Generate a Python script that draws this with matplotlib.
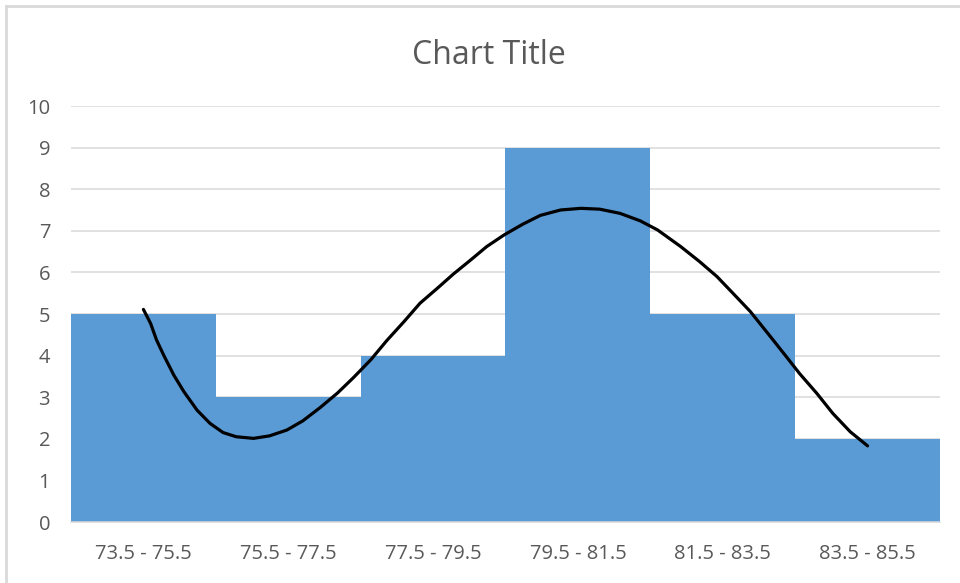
import matplotlib
matplotlib.use("Agg")
import matplotlib.pyplot as plt
from matplotlib.lines import Line2D

plt.rcParams['font.family'] = ['Open Sans', 'DejaVu Sans']

# histogram bins and frequencies
bins = ['73.5 - 75.5', '75.5 - 77.5', '77.5 - 79.5',
        '79.5 - 81.5', '81.5 - 83.5', '83.5 - 85.5']
counts = [5, 3, 4, 9, 5, 2]

# freehand trend curve drawn over the bars (x in bin-index units)
curve_x = [0.00, 0.05, 0.09, 0.14, 0.21, 0.28, 0.37, 0.46, 0.55, 0.64,
           0.76, 0.87, 0.99, 1.10, 1.22, 1.34, 1.45, 1.57, 1.68, 1.80,
           1.91, 2.03, 2.14, 2.26, 2.37, 2.49, 2.62, 2.74, 2.88, 3.02,
           3.15, 3.29, 3.43, 3.55, 3.71, 3.84, 3.96, 4.07, 4.19, 4.31,
           4.44, 4.53, 4.65, 4.76, 4.88, 5.00]
curve_y = [5.11, 4.77, 4.38, 4.01, 3.53, 3.13, 2.69, 2.37, 2.15, 2.05,
           2.01, 2.07, 2.21, 2.43, 2.75, 3.10, 3.47, 3.90, 4.36, 4.82,
           5.26, 5.62, 5.96, 6.30, 6.62, 6.90, 7.16, 7.37, 7.50, 7.54,
           7.52, 7.42, 7.24, 7.02, 6.62, 6.26, 5.90, 5.50, 5.06, 4.54,
           3.97, 3.57, 3.09, 2.61, 2.17, 1.83]

text_gray = '#595959'
grid_gray = '#D9D9D9'

fig = plt.figure(figsize=(9.6, 5.83), dpi=100)
ax = fig.add_axes([71/960, 1 - 522/583, (940 - 71)/960, (522 - 106)/583])

ax.bar(range(len(bins)), counts, width=1.0, color='#5B9BD5', zorder=2)
ax.plot(curve_x, curve_y, color='black', lw=2.3,
        solid_capstyle='round', solid_joinstyle='round', zorder=3)

ax.set_xlim(-0.5, len(bins) - 0.5)
ax.set_ylim(0, 10)
ax.set_yticks(range(0, 11))
ax.set_xticks(range(len(bins)))
ax.set_xticklabels(bins)
ax.yaxis.grid(True, color=grid_gray, lw=1.1)
ax.set_axisbelow(True)
for s in ['top', 'right', 'left']:
    ax.spines[s].set_visible(False)
ax.spines['bottom'].set_color(grid_gray)
ax.spines['bottom'].set_linewidth(1.1)
ax.tick_params(axis='both', length=0, labelsize=14.5, colors=text_gray)
ax.tick_params(axis='y', pad=15)
ax.tick_params(axis='x', pad=16)

fig.text(489/960, 1 - 55/583, 'Chart Title', ha='center', va='center',
         fontsize=23, color=text_gray)

# chart area border (top and left edges)
fig.add_artist(Line2D([6/960, 1], [1 - 6/583, 1 - 6/583],
                      transform=fig.transFigure, color=grid_gray, lw=2))
fig.add_artist(Line2D([6/960, 6/960], [0, 1 - 6/583],
                      transform=fig.transFigure, color=grid_gray, lw=2))

fig.savefig('out.png', dpi=100)
